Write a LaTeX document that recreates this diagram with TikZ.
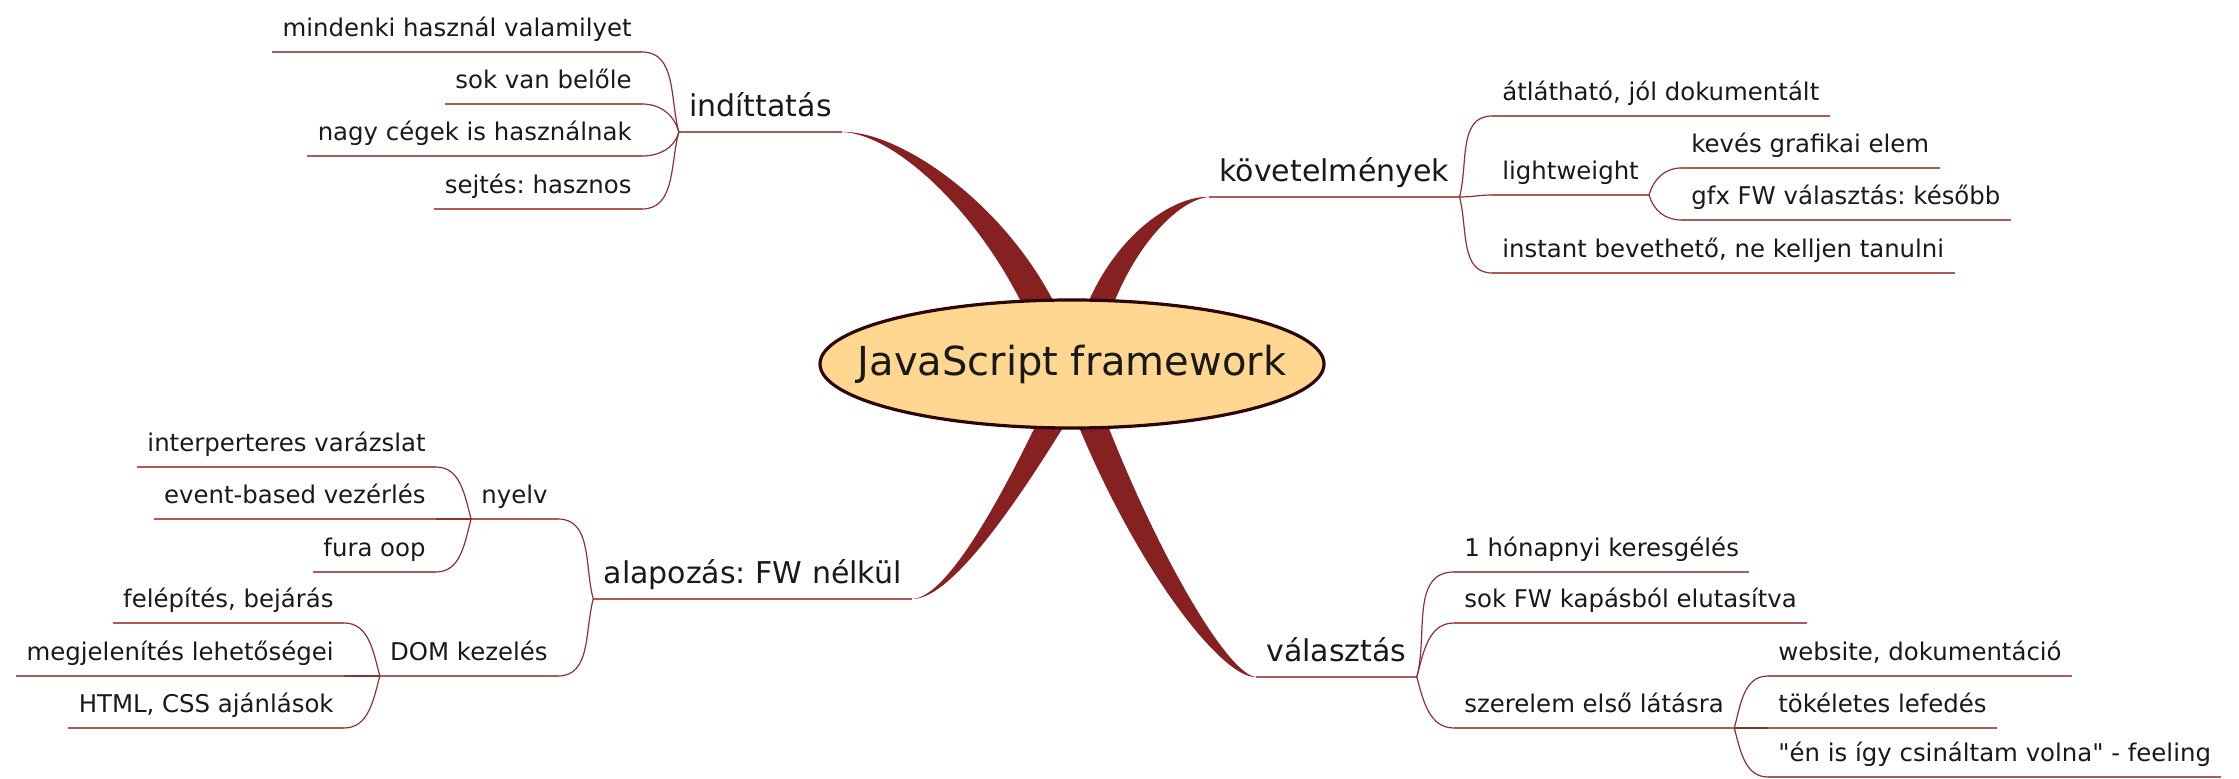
\documentclass[tikz,border=0pt]{standalone}
\usepackage{fontspec}
\setmainfont{DejaVu Sans}[Ligatures=TeXOff]
\usetikzlibrary{shapes.geometric}
\frenchspacing

\definecolor{limbred}{RGB}{135,32,32}
\definecolor{forkred}{RGB}{140,50,50}
\definecolor{linered}{RGB}{175,90,90}
\definecolor{hubfill}{RGB}{255,215,145}
\definecolor{hubline}{RGB}{45,5,5}
\definecolor{ink}{RGB}{25,25,25}

\tikzset{
  leaf/.style={font=\fontsize{12.2}{14}\selectfont, text=ink, inner xsep=5pt, inner ysep=0pt,
    text height=9pt, text depth=7.3pt},
  twig/.style={leaf, font=\fontsize{15}{18}\selectfont},
  fork/.style={draw=forkred, line width=0.6pt},
  uline/.style={draw=linered, line width=1pt},
  hubnode/.style={ellipse, draw=hubline, line width=1.6pt, fill=hubfill, inner xsep=-20pt, inner ysep=0pt,
    minimum width=252pt, minimum height=64pt, text=ink, font=\fontsize{20}{24}\selectfont},
}

\begin{document}
\begin{tikzpicture}[x=0.5pt,y=-0.5pt]
      \useasboundingbox (0,0) rectangle (2239,779);
      \coordinate (hub) at (1072,364);
      \node[twig,anchor=south east] (ind) at (842,132) {indíttatás};
      \node[twig,anchor=south west] (kov) at (1209,197) {követelmények};
      \node[twig,anchor=south east] (alap) at (912,599) {alapozás: FW nélkül};
      \node[twig,anchor=south west] (val) at (1256,677) {választás};
      \foreach \n in {ind,kov,alap,val}
        \draw[uline] (\n.south west) -- (\n.south east);
      \foreach \n/\p/\x/\y/\a/\txt in {
          mind/ind/642/52/105/{mindenki használ valamilyet},
          sok/ind/642/104/105/{sok van belőle},
          nagy/ind/642/156/-105/{nagy cégek is használnak},
          sejt/ind/642/209/-105/{sejtés: hasznos},
          nyelv/alap/558/519/105/nyelv,
          dom/alap/558/676/-105/{DOM kezelés},
          interp/nyelv/436/467/105/{interperteres varázslat},
          event/nyelv/436/519/180/{event-based vezérlés},
          fura/nyelv/436/572/-105/{fura oop},
          felep/dom/344/623/105/{felépítés, bejárás},
          megj/dom/344/676/180/{megjelenítés lehetőségei},
          html/dom/344/728/-105/{HTML, CSS ajánlások}} {
        \node[leaf,anchor=south east] (\n) at (\x,\y) {\txt};
        \draw[uline] (\n.south west) -- (\n.south east);
        \draw[fork] (\p.south west) to[out=\a,in=0] (\n.south east);
      }
      \foreach \n/\p/\x/\y/\a/\txt in {
          atl/kov/1492/116/75/{átlátható, jól dokumentált},
          lw/kov/1492/195/0/lightweight,
          inst/kov/1492/273/-75/{instant bevethető, ne kelljen tanulni},
          kev/lw/1681/168/75/{kevés grafikai elem},
          gfx/lw/1681/220/-75/{gfx FW választás: később},
          hon/val/1454/572/75/{1 hónapnyi keresgélés},
          kap/val/1454/623/75/{sok FW kapásból elutasítva},
          szer/val/1454/728/-75/{szerelem első látásra},
          web/szer/1768/676/75/{website, dokumentáció},
          tok/szer/1768/728/0/{tökéletes lefedés},
          igy/szer/1768/777/-75/{"én is így csináltam volna" - feeling}} {
        \node[leaf,anchor=south west] (\n) at (\x,\y) {\txt};
        \draw[uline] (\n.south west) -- (\n.south east);
        \draw[fork] (\p.south east) to[out=\a,in=180] (\n.south west);
      }
      \fill[limbred] (ind.south east) .. controls (900,134) and (996,228) .. ([shift={(-32,-19)}]hub)
        -- ([shift={(0,-19)}]hub) .. controls (1030,220) and (905,130) .. (ind.south east);
      \fill[limbred] (kov.south west) .. controls (1178,199) and (1124,252) .. ([shift={(28,-19)}]hub)
        -- ([shift={(2,-19)}]hub) .. controls (1098,245) and (1170,195) .. (kov.south west);
      \fill[limbred] (alap.south east) .. controls (950,598) and (1010,480) .. ([shift={(-24,36)}]hub)
        -- ([shift={(8,36)}]hub) .. controls (1030,482) and (955,600) .. (alap.south east);
      \fill[limbred] (val.south west) .. controls (1228,675) and (1155,552) .. ([shift={(26,36)}]hub)
        -- ([shift={(-4,36)}]hub) .. controls (1132,565) and (1222,679) .. (val.south west);
      \node[hubnode] (js) at (hub) {JavaScript framework};
\end{tikzpicture}
\end{document}
